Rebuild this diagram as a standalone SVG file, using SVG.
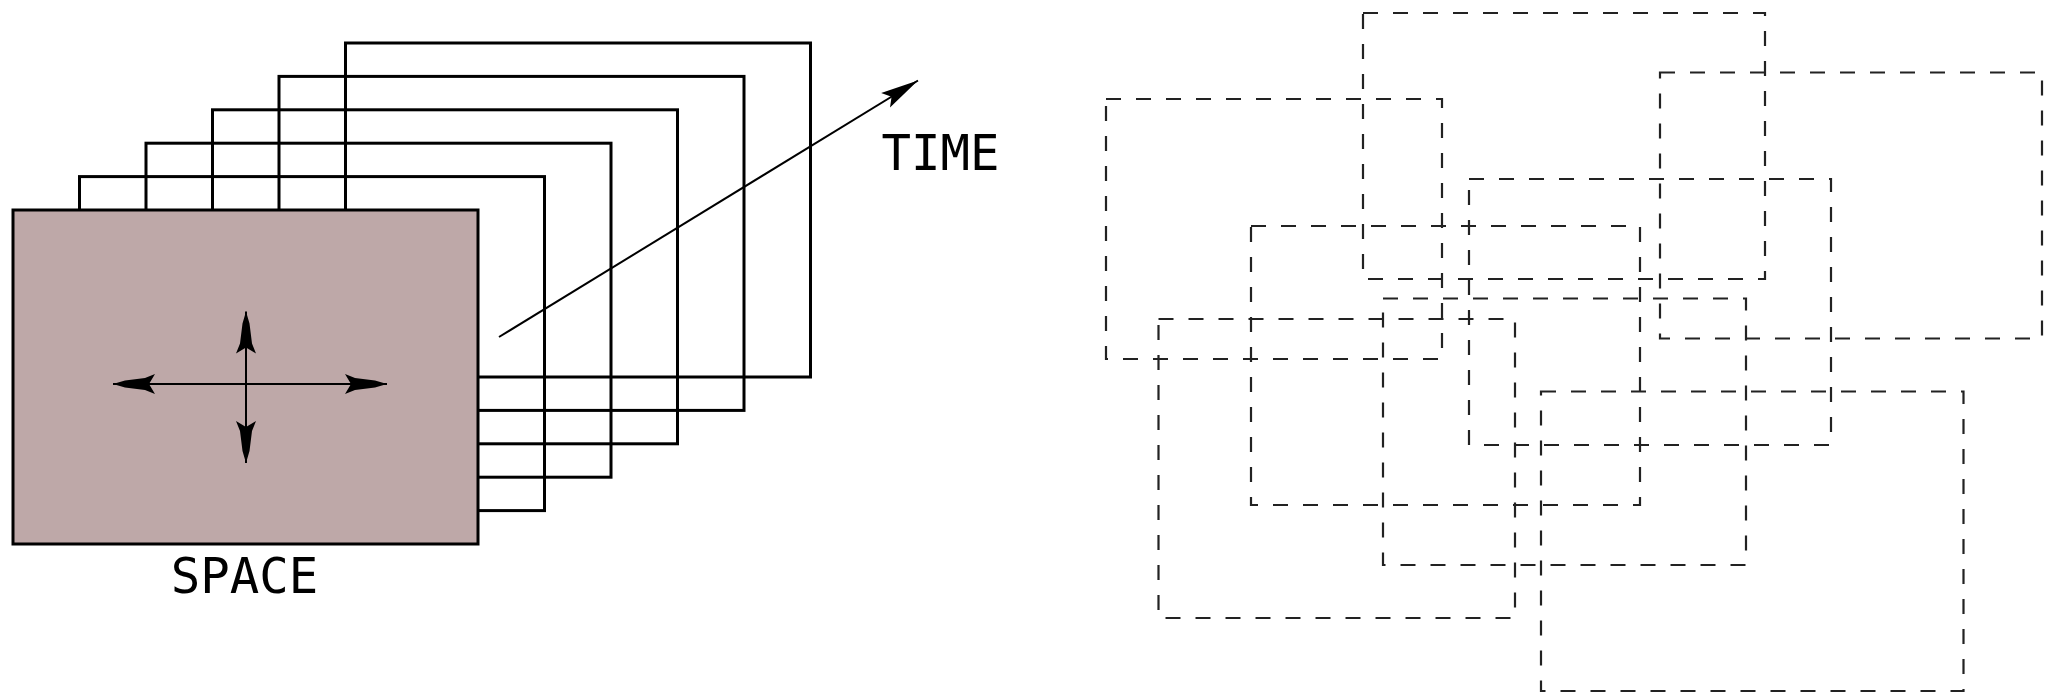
<svg xmlns="http://www.w3.org/2000/svg" width="2056" height="694" viewBox="0 0 2056 694">
<style>
.frame{fill:none;stroke:#000;stroke-width:3}
.main{fill:#bea8a8;stroke:#000;stroke-width:3}
.dash{fill:none;stroke:#222;stroke-width:2.2;stroke-dasharray:15 15}
.lbl{font-family:"DejaVu Sans Mono",monospace;font-size:49px;fill:#000}
.ax{fill:none;stroke:#000;stroke-width:2}
</style>
<defs>
<marker id="fancy" markerUnits="userSpaceOnUse" orient="auto-start-reverse" refX="0" refY="0" markerWidth="50" markerHeight="30" overflow="visible">
<path d="M0,0 L-12,-3.5 L-32,-6 L-42,-10 L-36,0 L-42,10 L-32,6 L-12,3.5 Z" fill="#000"/>
</marker>
<marker id="head" markerUnits="userSpaceOnUse" orient="auto" refX="0" refY="0" markerWidth="50" markerHeight="30" overflow="visible">
<path d="M0,0 L-38,-8.5 L-31,0 L-38,8.5 Z" fill="#000"/>
</marker>
</defs>
<g id="frames">
<rect class="frame" x="345.5" y="43" width="465" height="334"/>
<rect class="frame" x="279" y="76.4" width="465" height="334"/>
<rect class="frame" x="212.5" y="109.8" width="465" height="334"/>
<rect class="frame" x="146" y="143.2" width="465" height="334"/>
<rect class="frame" x="79.5" y="176.6" width="465" height="334"/>
</g>
<g id="space-frame">
<rect class="main" x="13" y="210" width="465" height="334"/>
</g>
<g id="connectors">
<line class="ax" x1="113" y1="384" x2="387" y2="384" marker-start="url(#fancy)" marker-end="url(#fancy)"/>
<line class="ax" x1="246" y1="311.5" x2="246" y2="463" marker-start="url(#fancy)" marker-end="url(#fancy)"/>
<line class="ax" x1="499" y1="337" x2="918" y2="80.5" marker-end="url(#head)"/>
</g>
<g id="labels">
<text class="lbl" x="244.5" y="593" text-anchor="middle">SPACE</text>
<text class="lbl" x="940.5" y="170" text-anchor="middle">TIME</text>
</g>
<g id="tiles">
<rect id="tile-a" class="dash" x="1106" y="99" width="336" height="260"/>
<rect id="tile-b" class="dash" x="1363" y="13" width="402" height="266"/>
<rect id="tile-c" class="dash" x="1660" y="72.5" width="382" height="266"/>
<rect id="tile-d" class="dash" x="1469" y="179" width="362" height="266"/>
<rect id="tile-e" class="dash" x="1251" y="226" width="389" height="279"/>
<rect id="tile-f" class="dash" x="1158.5" y="319" width="356.5" height="299"/>
<rect id="tile-g" class="dash" x="1383" y="298.5" width="363" height="266.5"/>
<rect id="tile-h" class="dash" x="1541" y="391.5" width="422.5" height="299.5"/>
</g>
</svg>
